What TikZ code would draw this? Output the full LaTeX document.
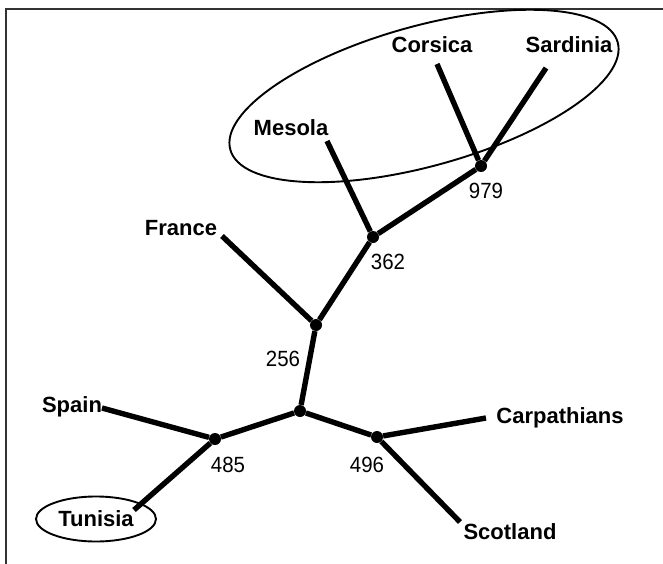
\documentclass[tikz,border=0pt]{standalone}
\usepackage{fontspec}
\setmainfont{Liberation Sans}
\newfontfamily\supportfont[FakeStretch=0.93]{Liberation Sans}
\usetikzlibrary{shapes.geometric}
\begin{document}
\begin{tikzpicture}[x=1pt,y=-1pt,
  edge/.style={line width=5.4pt},
  junction/.style={circle,fill=black,inner sep=0pt,minimum size=12pt},
  taxon/.style={font=\fontsize{22}{26}\selectfont\bfseries,inner sep=0pt,text height=15.8pt,text depth=0pt},
  support/.style={font=\supportfont\fontsize{22}{26}\selectfont,inner sep=0pt,text height=15.8pt,text depth=0pt},
  ring/.style={line width=1.9pt},
  frameline/.style={line width=2.4pt,draw=black!80}]
\useasboundingbox (0,0) rectangle (663,564);

% open frame: top and left rules only
\coordinate (ftr) at (663,9);
\coordinate (ftl) at (6,9);
\coordinate (fbl) at (6,564);
\draw[frameline] (ftr) -- (ftl) -- (fbl);

% internal nodes of the tree
\node[junction] (j485) at (215,439) {};
\node[junction] (jroot) at (300,411) {};
\node[junction] (j496) at (377,437) {};
\node[junction] (j256) at (316,325) {};
\node[junction] (j362) at (373,237) {};
\node[junction] (j979) at (481,166) {};

% tips of the terminal branches
\coordinate (spainEnd) at (102,408);
\coordinate (tunisiaEnd) at (134,510);
\coordinate (scotlandEnd) at (460,522);
\coordinate (carpEnd) at (486,418);
\coordinate (franceEnd) at (222,236);
\coordinate (mesolaEnd) at (327,141);
\coordinate (corsicaEnd) at (437,64);
\coordinate (sardiniaEnd) at (546,68);

% population labels
\node[taxon] (spain) at (72,405) {Spain};
\node[taxon,draw,ellipse,ring,minimum width=120pt,minimum height=45pt] (tunisia) at (96,519) {Tunisia};
\node[taxon] (scotland) at (510,532) {Scotland};
\node[taxon] (carpathians) at (560,416) {Carpathians};
\node[taxon] (france) at (181,228) {France};
\node[taxon] (mesola) at (291,128) {Mesola};
\node[taxon] (corsica) at (432,45) {Corsica};
\node[taxon] (sardinia) at (569,45) {Sardinia};

% bootstrap values at the internal nodes
\node[support] (b485) at (228,465) {485};
\node[support] (b496) at (367,465) {496};
\node[support] (b256) at (283,359) {256};
\node[support] (b362) at (388,262) {362};
\node[support] (b979) at (486,191) {979};

% branches
\draw[edge] (j485) -- (spainEnd);
\draw[edge] (j485) -- (tunisiaEnd);
\draw[edge] (j485) -- (jroot);
\draw[edge] (jroot) -- (j496);
\draw[edge] (j496) -- (carpEnd);
\draw[edge] (j496) -- (scotlandEnd);
\draw[edge] (jroot) -- (j256);
\draw[edge] (j256) -- (franceEnd);
\draw[edge] (j256) -- (j362);
\draw[edge] (j362) -- (mesolaEnd);
\draw[edge] (j362) -- (j979);
\draw[edge] (j979) -- (corsicaEnd);
\draw[edge] (j979) -- (sardiniaEnd);

% ring round the island clade
\node[draw,ellipse,ring,minimum width=402pt,minimum height=140pt,rotate=15.5] (islands) at (424,96) {};
\end{tikzpicture}
\end{document}
